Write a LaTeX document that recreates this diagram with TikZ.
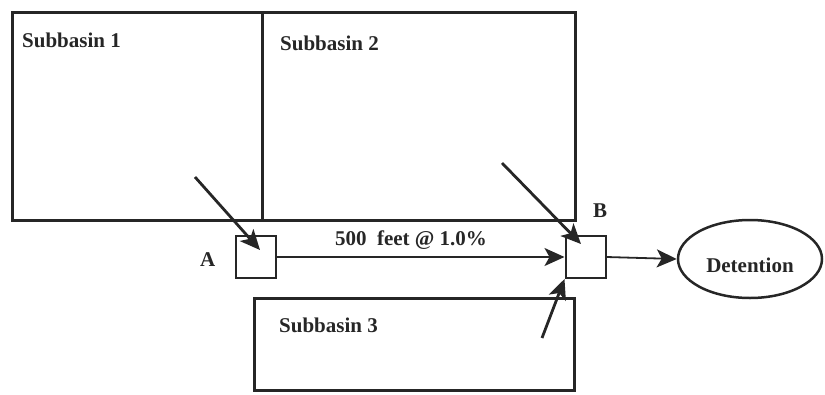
\documentclass[tikz,border=0pt]{standalone}
\usepackage{fontspec}
\setmainfont{Liberation Serif}
\usetikzlibrary{arrows.meta,shapes.geometric}
\definecolor{ink}{HTML}{262626}
\tikzset{
  myhead/.tip={Stealth[length=20pt,width=18pt,inset=5pt]}
}
\begin{document}
\begin{tikzpicture}[x=1pt,y=-1pt,
  basin/.style={draw=ink,line width=3pt,rectangle,inner sep=0pt},
  inlet/.style={draw=ink,line width=2pt,rectangle,inner sep=0pt,minimum width=40pt,minimum height=42pt,fill=white},
  lbl/.style={text=ink,font=\bfseries\fontsize{21}{24}\selectfont,inner sep=0pt},
  flow/.style={draw=ink,line width=2.8pt,-myhead},
  pipe/.style={draw=ink,line width=1.8pt,-myhead}]
\useasboundingbox (0,0) rectangle (825,394);
% subbasins
\node[basin,minimum width=250pt,minimum height=208pt] (s1) at (137,116) {};
\node[basin,minimum width=313pt,minimum height=208pt] (s2) at (418.5,116) {};
\node[basin,minimum width=320pt,minimum height=92pt] (s3) at (414,344) {};
\node[lbl,anchor=base west] (s1t) at (22,47) {Subbasin 1};
\node[lbl,anchor=base west] (s2t) at (280,50) {Subbasin 2};
\node[lbl,anchor=base west] (s3t) at (279,332) {Subbasin 3};
% inlets
\node[inlet] (A) at (255.5,257) {};
\node[inlet] (B) at (585.5,257) {};
\node[lbl,anchor=base west] (At) at (200,266) {A};
\node[lbl,anchor=base west] (Bt) at (593,217) {B};
% detention
\node[draw=ink,line width=2.5pt,ellipse,minimum width=144pt,minimum height=78pt,inner sep=0pt] (D) at (750,259) {};
\node[lbl] (Dt) at (750,265) {Detention};
% pipe A to B
\draw[pipe] (A.east) -- (B.west);
\node[lbl,anchor=base] (pt) at (411,245) {500\ \ feet @ 1.0\%};
\draw[pipe] (B.east) -- (D.west);
% overland flows
\coordinate (f1) at (195,177);
\coordinate (f1e) at (260,250);
\coordinate (f2) at (502,163);
\coordinate (f2e) at (581,244);
\coordinate (f3) at (542,338);
\draw[flow] (f1) -- (f1e);
\draw[flow] (f2) -- (f2e);
\draw[flow] (f3) -- (B.south west);
\end{tikzpicture}
\end{document}
